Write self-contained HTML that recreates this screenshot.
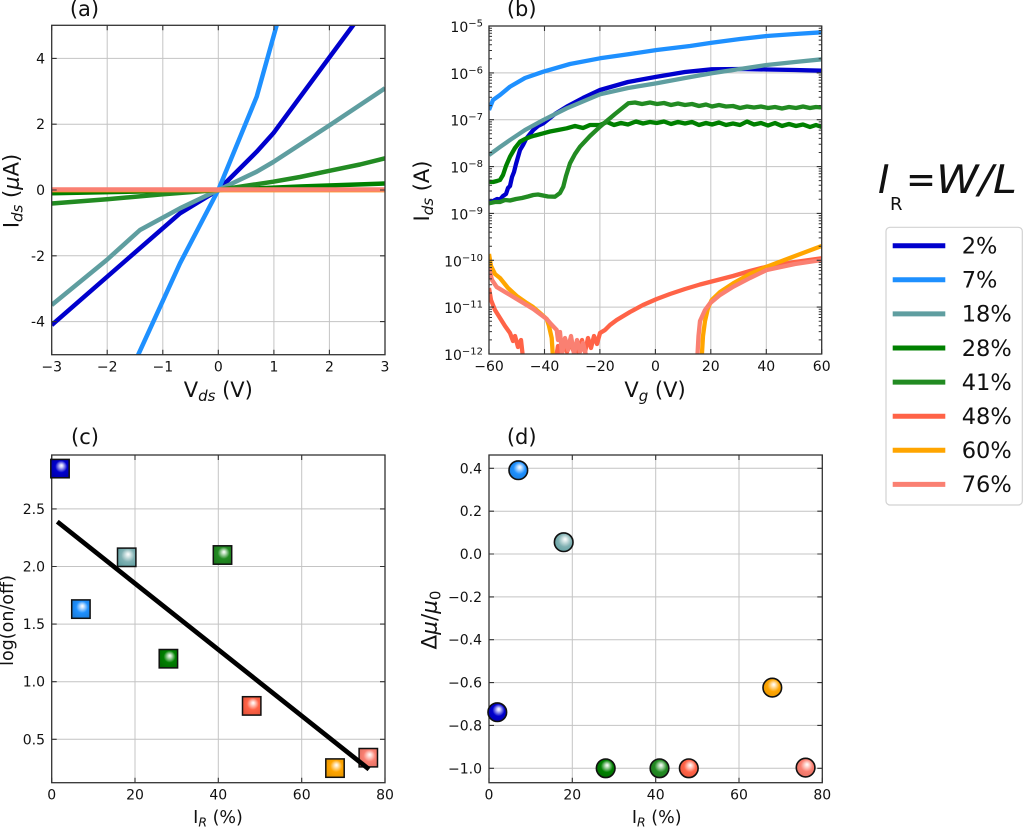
<!DOCTYPE html>
<html><head><meta charset="utf-8"><style>
html,body{margin:0;padding:0;background:#fff;}
svg{display:block;}
text{font-family:"DejaVu Sans","Liberation Sans",sans-serif;fill:#111;}
</style></head><body>
<svg width="1024" height="827" viewBox="0 0 1024 827" xmlns="http://www.w3.org/2000/svg">
<defs>
<clipPath id="cA"><rect x="51.7" y="25.3" width="333.3" height="329.4"/></clipPath>
<clipPath id="cB"><rect x="489" y="26" width="332.7" height="328"/></clipPath>
<radialGradient id="m0" cx="0.55" cy="0.45" r="0.65" fx="0.58" fy="0.33"><stop offset="0" stop-color="#fff"/><stop offset="0.12" stop-color="#d8d8ff"/><stop offset="0.5" stop-color="#0000CD"/><stop offset="1" stop-color="#0000a8"/></radialGradient>
<radialGradient id="m1" cx="0.55" cy="0.45" r="0.65" fx="0.58" fy="0.33"><stop offset="0" stop-color="#fff"/><stop offset="0.12" stop-color="#d6eaff"/><stop offset="0.5" stop-color="#1E90FF"/><stop offset="1" stop-color="#1a7ad8"/></radialGradient>
<radialGradient id="m2" cx="0.55" cy="0.45" r="0.65" fx="0.58" fy="0.33"><stop offset="0" stop-color="#fff"/><stop offset="0.15" stop-color="#dfecec"/><stop offset="0.55" stop-color="#7fb0b2"/><stop offset="1" stop-color="#5F9EA0"/></radialGradient>
<radialGradient id="m3" cx="0.55" cy="0.45" r="0.65" fx="0.58" fy="0.33"><stop offset="0" stop-color="#fff"/><stop offset="0.12" stop-color="#cfe8cf"/><stop offset="0.5" stop-color="#008000"/><stop offset="1" stop-color="#006a00"/></radialGradient>
<radialGradient id="m4" cx="0.55" cy="0.45" r="0.65" fx="0.58" fy="0.33"><stop offset="0" stop-color="#fff"/><stop offset="0.12" stop-color="#d3ead3"/><stop offset="0.5" stop-color="#228B22"/><stop offset="1" stop-color="#1d771d"/></radialGradient>
<radialGradient id="m5" cx="0.55" cy="0.45" r="0.65" fx="0.58" fy="0.33"><stop offset="0" stop-color="#fff"/><stop offset="0.12" stop-color="#ffe0da"/><stop offset="0.5" stop-color="#FF6347"/><stop offset="1" stop-color="#e5533a"/></radialGradient>
<radialGradient id="m6" cx="0.55" cy="0.45" r="0.65" fx="0.58" fy="0.33"><stop offset="0" stop-color="#fff"/><stop offset="0.12" stop-color="#ffedcc"/><stop offset="0.5" stop-color="#FFA500"/><stop offset="1" stop-color="#e59400"/></radialGradient>
<radialGradient id="m7" cx="0.55" cy="0.45" r="0.65" fx="0.58" fy="0.33"><stop offset="0" stop-color="#fff"/><stop offset="0.12" stop-color="#ffe5e1"/><stop offset="0.5" stop-color="#FA8072"/><stop offset="1" stop-color="#e06f62"/></radialGradient>
<g id="mn" stroke="#333" stroke-width="1">
<path d="M489 -14.1h3M489 -22.4h3M489 -28.2h3M489 -32.8h3M489 -36.5h3M489 -39.6h3M489 -42.3h3M489 -44.7h3M821.7 -14.1h-3M821.7 -22.4h-3M821.7 -28.2h-3M821.7 -32.8h-3M821.7 -36.5h-3M821.7 -39.6h-3M821.7 -42.3h-3M821.7 -44.7h-3"/>
</g>
</defs>
<rect width="1024" height="827" fill="#fff"/>

<!-- ===== Panel (a) ===== -->
<g stroke="#c4c4c4" stroke-width="1" fill="none">
<path d="M107.2 25.3V354.7M162.8 25.3V354.7M218.3 25.3V354.7M273.9 25.3V354.7M329.4 25.3V354.7M51.7 58.4H385M51.7 124.2H385M51.7 190H385M51.7 255.8H385M51.7 321.6H385"/>
</g>
<g clip-path="url(#cA)" fill="none" stroke-width="4.5" stroke-linejoin="round" stroke-linecap="butt">
<polyline stroke="#0000CD" points="51.7,325 180,213.3 218.3,190 256.7,151.7 273.3,133.3 353.3,25 357,20"/>
<polyline stroke="#1E90FF" points="135.8,360 180,263.3 218.3,190 256.7,96.7 278.1,20"/>
<polyline stroke="#5F9EA0" points="51.7,305 106.7,260 140,230 180,208.3 218.3,190 256.7,171.7 273.3,162 330,125 385,88.3"/>
<polyline stroke="#008000" points="51.7,193.3 218.3,190 300,186.5 385,183.5"/>
<polyline stroke="#228B22" points="51.7,203.5 107,199.3 163,194.3 218.3,190 273.3,181.7 300,177 330,170.7 360,164.5 385,158.3"/>
<polyline stroke="#FF6347" points="51.7,190 385,190"/>
<polyline stroke="#FFA500" points="51.7,190 385,190"/>
<polyline stroke="#FA8072" points="51.7,189.5 385,189.5"/>
</g>
<rect x="51.7" y="25.3" width="333.3" height="329.4" fill="none" stroke="#333" stroke-width="1.3"/>
<path stroke="#333" stroke-width="1.1" d="M51.7 354.7v-5M107.2 354.7v-5M162.8 354.7v-5M218.3 354.7v-5M273.9 354.7v-5M329.4 354.7v-5M385 354.7v-5M51.7 25.3v5M107.2 25.3v5M162.8 25.3v5M218.3 25.3v5M273.9 25.3v5M329.4 25.3v5M385 25.3v5M51.7 58.4h5M51.7 124.2h5M51.7 190h5M51.7 255.8h5M51.7 321.6h5M385 58.4h-5M385 124.2h-5M385 190h-5M385 255.8h-5M385 321.6h-5"/>
<g font-size="14" text-anchor="middle">
<text x="51.7" y="371.5">−3</text><text x="107.2" y="371.5">−2</text><text x="162.8" y="371.5">−1</text><text x="218.3" y="371.5">0</text><text x="273.9" y="371.5">1</text><text x="329.4" y="371.5">2</text><text x="385" y="371.5">3</text>
</g>
<g font-size="14" text-anchor="end">
<text x="45" y="63.4">4</text><text x="45" y="129.2">2</text><text x="45" y="195">0</text><text x="45" y="260.8">-2</text><text x="45" y="326.6">-4</text>
</g>
<text x="218.3" y="397" font-size="21" text-anchor="middle">V<tspan font-size="15" font-style="italic" dy="4">ds</tspan><tspan dy="-4"> (V)</tspan></text>
<text transform="translate(18.5,191) rotate(-90)" font-size="21" text-anchor="middle">I<tspan font-size="15" font-style="italic" dy="4">ds</tspan><tspan dy="-4"> (</tspan><tspan font-style="italic">μ</tspan>A)</text>
<text x="84.5" y="16" font-size="21" text-anchor="middle">(a)</text>

<!-- ===== Panel (b) ===== -->
<g stroke="#c4c4c4" stroke-width="1" fill="none">
<path d="M544.5 26V354M599.9 26V354M655.4 26V354M710.8 26V354M766.3 26V354M489 72.9H821.7M489 119.7H821.7M489 166.6H821.7M489 213.4H821.7M489 260.3H821.7M489 307.1H821.7"/>
</g>
<g clip-path="url(#cB)" fill="none" stroke-width="4.3" stroke-linejoin="round">
<polyline stroke="#0000CD" points="489,201.7 493,201 497,199 500,199.5 503,196 506,194 508,188 510,186 512,177 514,172 516,164 518,157 520,150 523,145 526,139 530,134 533.3,130 538,126 543.3,123.3 555,114 566.7,106.7 583,98 600,90 628,82 656.7,76.7 685,72 711.7,69.3 740,69 766.7,69.5 795,70 821.7,70.7"/>
<polyline stroke="#1E90FF" points="489,110 493,100 500,95 510,86.7 525,78 543.3,71.7 570,64 600,58.3 630,54 656.7,50 690,46 711.7,42.7 740,39 766.7,36 795,34 821.7,32.3"/>
<polyline stroke="#5F9EA0" points="489,155 500,147 510,140 525,130 543.3,120 566.7,108.3 600,94.3 628,88 656.7,83.3 685,78 711.7,73.3 740,69 766.7,65 795,62 821.7,59.3"/>
<polyline stroke="#008000" points="489,181.7 493,182 497,181 500,180 503,175 506,166 510,156.7 515,148 520,141.7 525,139 530,137 535,135.5 543.3,133.3 550,131.5 558,130 566.7,128.3 575,126 583,128 590,125 600,125 607,122 614,125 621,123 628,124.5 636,121.5 643,123.5 650,122 656.7,123 664,121.5 671,124 678,122 685,123.5 692,122 699,125 706,123 712,124.5 719,122.5 726,125 733,123.5 740,125 747,121.5 754,124.5 761,123 768,125.5 775,123 782,126 789,124 796,126 803,124.5 810,127 816,125 821.7,127"/>
<polyline stroke="#228B22" points="489,203.3 495,202 500,202 505,200 510,200.5 516,199 522,198 528,196.5 533.3,195 538,194.5 543,195.5 548,196.5 555,196.7 560,193 563.3,186.7 566,176 570,163.3 575,154 580,146.7 590,136 600,126.7 615,114 628.3,103.3 635,102.5 642,104 650,102.5 657,104 664,103 671,105 678,103.5 685,105 692,104 699,106 706,104.5 712,106.5 719,105 726,106.5 733,106 740,108 747,106.5 754,107.5 761,106.5 768,108 775,107 782,108.5 789,107 796,108 803,106.5 810,108 816,107 821.7,107.5"/>
<polyline stroke="#FF6347" points="489,288 491,300 495,310 500,318 505,326 510,333 513,341 515,336 518,347 521,340 523,358"/>
<polyline stroke="#FF6347" points="556,358 558,346 561,354 564,342 567,352 570,340 573,350 576,344 579,354 582,340 585,352 588,338 591,348 594,336 597,344 600,333 605,330 610,325 616.7,320 630,312 643,305 656.7,299 670,294 685,289 700,284.5 711.7,281.5 733,276 750,271 766.7,266.7 795,262 821.7,258.3"/>
<polyline stroke="#FFA500" points="489,254 491,266 495,274 500,278 508,288 516.7,296 526.7,303 533,307 540,313 546.7,319 549,326 551.7,338 553,358"/>
<polyline stroke="#FFA500" points="701.7,358 703,336 705,321 708,308 711.7,300 720,292 733.3,283.3 750,274 766.7,266.7 795,256 821.7,246"/>
<polyline stroke="#FA8072" points="489,268 492,280 496.7,287 505,292 516.7,299 525,304 533.3,309 540,314 546.7,319 551,324 556.7,330 558,340 560,332 562,354 565,338 568,350 571,336 574,354 577,340 580,352 583,343 586.7,358"/>
<polyline stroke="#FA8072" points="697.3,358 698.5,336 700,321 705,310 710,303.3 720,295 733.3,286.7 750,278 766.7,270 795,264 821.7,260"/>
</g>
<rect x="489" y="26" width="332.7" height="328" fill="none" stroke="#333" stroke-width="1.3"/>
<path stroke="#333" stroke-width="1.1" d="M489 354v-5M544.5 354v-5M599.9 354v-5M655.4 354v-5M710.8 354v-5M766.3 354v-5M821.7 354v-5M489 26v5M544.5 26v5M599.9 26v5M655.4 26v5M710.8 26v5M766.3 26v5M821.7 26v5M489 72.9h5M489 119.7h5M489 166.6h5M489 213.4h5M489 260.3h5M489 307.1h5M821.7 72.9h-5M821.7 119.7h-5M821.7 166.6h-5M821.7 213.4h-5M821.7 260.3h-5M821.7 307.1h-5"/>
<use href="#mn" transform="translate(0,354)"/><use href="#mn" transform="translate(0,307.1)"/><use href="#mn" transform="translate(0,260.3)"/><use href="#mn" transform="translate(0,213.4)"/><use href="#mn" transform="translate(0,166.6)"/><use href="#mn" transform="translate(0,119.7)"/><use href="#mn" transform="translate(0,72.9)"/>
<g font-size="14" text-anchor="middle">
<text x="489" y="371">−60</text><text x="544.5" y="371">−40</text><text x="599.9" y="371">−20</text><text x="655.4" y="371">0</text><text x="710.8" y="371">20</text><text x="766.3" y="371">40</text><text x="821.7" y="371">60</text>
</g>
<g font-size="14" text-anchor="end">
<text x="483" y="32">10<tspan font-size="10" dy="-5.5">−5</tspan></text>
<text x="483" y="78.9">10<tspan font-size="10" dy="-5.5">−6</tspan></text>
<text x="483" y="125.7">10<tspan font-size="10" dy="-5.5">−7</tspan></text>
<text x="483" y="172.6">10<tspan font-size="10" dy="-5.5">−8</tspan></text>
<text x="483" y="219.4">10<tspan font-size="10" dy="-5.5">−9</tspan></text>
<text x="483" y="266.3">10<tspan font-size="10" dy="-5.5">−10</tspan></text>
<text x="483" y="313.1">10<tspan font-size="10" dy="-5.5">−11</tspan></text>
<text x="483" y="360">10<tspan font-size="10" dy="-5.5">−12</tspan></text>
</g>
<text x="655" y="397" font-size="21" text-anchor="middle">V<tspan font-size="15" font-style="italic" dy="4">g</tspan><tspan dy="-4"> (V)</tspan></text>
<text transform="translate(429,191) rotate(-90)" font-size="21" text-anchor="middle">I<tspan font-size="15" font-style="italic" dy="4">ds</tspan><tspan dy="-4"> (A)</tspan></text>
<text x="521.7" y="16" font-size="21" text-anchor="middle">(b)</text>

<!-- ===== Panel (c) ===== -->
<g stroke="#c4c4c4" stroke-width="1" fill="none">
<path d="M135 455V782.7M218.3 455V782.7M301.7 455V782.7M51.7 739.3H385M51.7 681.7H385M51.7 624.1H385M51.7 566.5H385M51.7 508.9H385"/>
</g>
<rect x="51.7" y="455" width="333.3" height="327.7" fill="none" stroke="#333" stroke-width="1.3"/>
<path stroke="#333" stroke-width="1.1" d="M51.7 782.7v-5M135 782.7v-5M218.3 782.7v-5M301.7 782.7v-5M385 782.7v-5M51.7 455v5M135 455v5M218.3 455v5M301.7 455v5M385 455v5M51.7 739.3h5M51.7 681.7h5M51.7 624.1h5M51.7 566.5h5M51.7 508.9h5M385 739.3h-5M385 681.7h-5M385 624.1h-5M385 566.5h-5M385 508.9h-5"/>
<g stroke="#111" stroke-width="1.5">
<rect x="50.8" y="459.4" width="18.4" height="18.4" fill="url(#m0)"/>
<rect x="71.7" y="599.9" width="18.4" height="18.4" fill="url(#m1)"/>
<rect x="117.5" y="548.1" width="18.4" height="18.4" fill="url(#m2)"/>
<rect x="159.2" y="649.5" width="18.4" height="18.4" fill="url(#m3)"/>
<rect x="213.3" y="545.8" width="18.4" height="18.4" fill="url(#m4)"/>
<rect x="242.5" y="696.7" width="18.4" height="18.4" fill="url(#m5)"/>
<rect x="325.8" y="758.9" width="18.4" height="18.4" fill="url(#m6)"/>
<rect x="359.1" y="748.5" width="18.4" height="18.4" fill="url(#m7)"/>
</g>
<line x1="57.3" y1="521.7" x2="369" y2="769.3" stroke="#000" stroke-width="4.7"/>
<g font-size="14" text-anchor="middle">
<text x="51.7" y="799.5">0</text><text x="135" y="799.5">20</text><text x="218.3" y="799.5">40</text><text x="301.7" y="799.5">60</text><text x="385" y="799.5">80</text>
</g>
<g font-size="14" text-anchor="end">
<text x="45" y="744.3">0.5</text><text x="45" y="686.7">1.0</text><text x="45" y="629.1">1.5</text><text x="45" y="571.5">2.0</text><text x="45" y="513.9">2.5</text>
</g>
<text x="218" y="823" font-size="17.5" text-anchor="middle">I<tspan font-size="12.5" font-style="italic" dy="3.5">R</tspan><tspan dy="-3.5"> (%)</tspan></text>
<text transform="translate(13,620.5) rotate(-90)" font-size="17.5" text-anchor="middle">log(on/off)</text>
<text x="85" y="444" font-size="21" text-anchor="middle">(c)</text>

<!-- ===== Panel (d) ===== -->
<g stroke="#c4c4c4" stroke-width="1" fill="none">
<path d="M572.3 455V782.7M655.7 455V782.7M739 455V782.7M489 468.3H822.3M489 511.2H822.3M489 554H822.3M489 596.9H822.3M489 639.7H822.3M489 682.6H822.3M489 725.4H822.3M489 768.3H822.3"/>
</g>
<rect x="489" y="455" width="333.3" height="327.7" fill="none" stroke="#333" stroke-width="1.3"/>
<path stroke="#333" stroke-width="1.1" d="M489 782.7v-5M572.3 782.7v-5M655.7 782.7v-5M739 782.7v-5M822.3 782.7v-5M489 455v5M572.3 455v5M655.7 455v5M739 455v5M822.3 455v5M489 468.3h5M489 511.2h5M489 554h5M489 596.9h5M489 639.7h5M489 682.6h5M489 725.4h5M489 768.3h5M822.3 468.3h-5M822.3 511.2h-5M822.3 554h-5M822.3 596.9h-5M822.3 639.7h-5M822.3 682.6h-5M822.3 725.4h-5M822.3 768.3h-5"/>
<g stroke="#111" stroke-width="1.6">
<circle cx="497.3" cy="712.2" r="9.3" fill="url(#m0)"/>
<circle cx="518.3" cy="470.2" r="9.3" fill="url(#m1)"/>
<circle cx="563.7" cy="542.2" r="9.3" fill="url(#m2)"/>
<circle cx="605.7" cy="768.3" r="9.3" fill="url(#m3)"/>
<circle cx="659.5" cy="768.3" r="9.3" fill="url(#m4)"/>
<circle cx="688.8" cy="768.3" r="9.3" fill="url(#m5)"/>
<circle cx="772.3" cy="687.6" r="9.3" fill="url(#m6)"/>
<circle cx="805.6" cy="767.6" r="9.3" fill="url(#m7)"/>
</g>
<g font-size="14" text-anchor="middle">
<text x="489" y="799.5">0</text><text x="572.3" y="799.5">20</text><text x="655.7" y="799.5">40</text><text x="739" y="799.5">60</text><text x="822.3" y="799.5">80</text>
</g>
<g font-size="14" text-anchor="end">
<text x="482" y="473.3">0.4</text><text x="482" y="516.2">0.2</text><text x="482" y="559">0.0</text><text x="482" y="601.9">−0.2</text><text x="482" y="644.7">−0.4</text><text x="482" y="687.6">−0.6</text><text x="482" y="730.4">−0.8</text><text x="482" y="773.3">−1.0</text>
</g>
<text x="656.7" y="823" font-size="17.5" text-anchor="middle">I<tspan font-size="12.5" font-style="italic" dy="3.5">R</tspan><tspan dy="-3.5"> (%)</tspan></text>
<text transform="translate(436.5,620) rotate(-90)" font-size="21.5" text-anchor="middle">Δ<tspan font-style="italic">μ</tspan>/<tspan font-style="italic">μ</tspan><tspan font-size="15" dy="4">0</tspan></text>
<text x="521.7" y="444" font-size="21" text-anchor="middle">(d)</text>

<!-- ===== Legend ===== -->
<text x="878" y="193" font-size="39" font-style="italic">I</text>
<text x="890" y="210" font-size="18">R</text>
<text x="906" y="193" font-size="39" textLength="30" lengthAdjust="spacingAndGlyphs">=</text>
<text x="936" y="193" font-size="39" font-style="italic" textLength="81" lengthAdjust="spacingAndGlyphs">W/L</text>
<rect x="886" y="227.3" width="136.3" height="277.7" rx="4" fill="#fff" stroke="#d2d2d2" stroke-width="1.2"/>
<g stroke-width="5">
<line x1="892.7" y1="245.7" x2="945.3" y2="245.7" stroke="#0000CD"/>
<line x1="892.7" y1="279.8" x2="945.3" y2="279.8" stroke="#1E90FF"/>
<line x1="892.7" y1="313.9" x2="945.3" y2="313.9" stroke="#5F9EA0"/>
<line x1="892.7" y1="348" x2="945.3" y2="348" stroke="#008000"/>
<line x1="892.7" y1="382.1" x2="945.3" y2="382.1" stroke="#228B22"/>
<line x1="892.7" y1="416.2" x2="945.3" y2="416.2" stroke="#FF6347"/>
<line x1="892.7" y1="450.3" x2="945.3" y2="450.3" stroke="#FFA500"/>
<line x1="892.7" y1="484.4" x2="945.3" y2="484.4" stroke="#FA8072"/>
</g>
<g font-size="22.5">
<text x="961.7" y="253.5">2%</text>
<text x="961.7" y="287.6">7%</text>
<text x="961.7" y="321.7">18%</text>
<text x="961.7" y="355.8">28%</text>
<text x="961.7" y="389.9">41%</text>
<text x="961.7" y="424">48%</text>
<text x="961.7" y="458.1">60%</text>
<text x="961.7" y="492.2">76%</text>
</g>
</svg>
</body></html>
